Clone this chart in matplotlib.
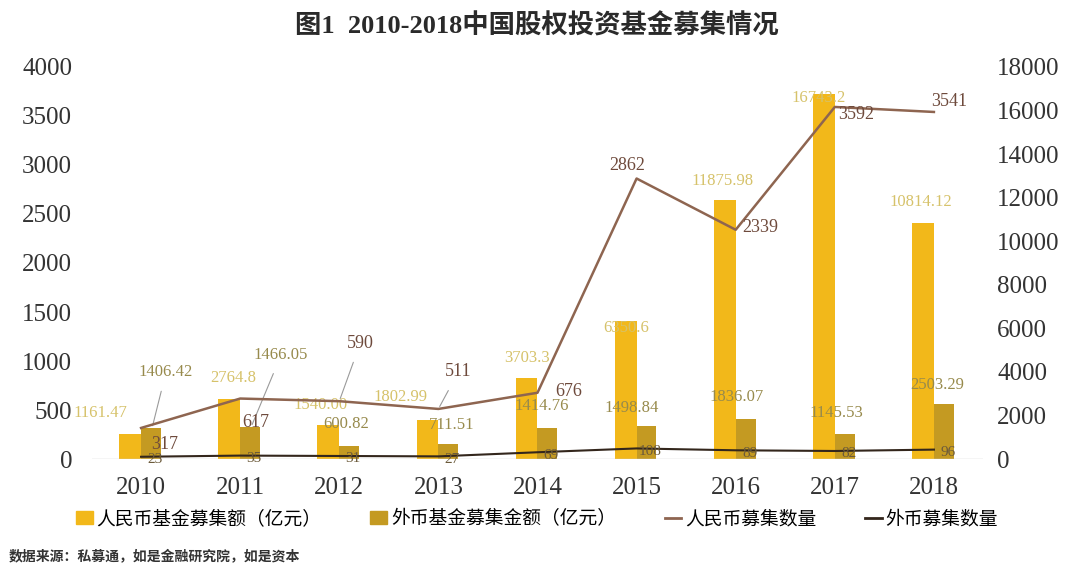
import numpy as np
import matplotlib
matplotlib.use("Agg")
import matplotlib.pyplot as plt
from matplotlib.patches import Patch
from matplotlib.lines import Line2D

plt.rcParams['font.family'] = ['Liberation Serif', 'Noto Sans CJK SC', 'DejaVu Sans']

years = ['2010', '2011', '2012', '2013', '2014', '2015', '2016', '2017', '2018']
rmb_amount = [1161.47, 2764.8, 1540.0, 1802.99, 3703.3, 6350.6, 11875.98, 16743.2, 10814.12]
fx_amount = [1406.42, 1466.05, 600.82, 711.51, 1414.76, 1498.84, 1836.07, 1145.53, 2503.29]
rmb_count = [317, 617, 590, 511, 676, 2862, 2339, 3592, 3541]
fx_count = [23, 35, 31, 27, 69, 108, 89, 82, 96]

rmb_amount_labels = ['1161.47', '2764.8', '1540.00', '1802.99', '3703.3', '6350.6',
                     '11875.98', '16743.2', '10814.12']

C_RMB = '#F2B81A'
C_FX = '#C49A22'
C_RMB_LINE = '#8E6550'
C_FX_LINE = '#33261C'
C_RMB_TXT = '#D6C26A'
C_FX_TXT = '#978A4C'
C_CNT_TXT = '#6E4A3C'

# label offsets in pixels (dx, dy)
rmb_off = [(-30, 21), (4, 21), (-8, 20), (-27, 23), (0, 20), (0, -7), (-2, 19), (-5, -4), (-2, 21)]
fx_off = [(14, 56), (30, 72), (-4, 22), (2, 19), (-7, 22), (-16, 18), (-10, 22), (-9, 21), (-8, 19)]
cnt_off = [(24, -17), (16, -24), (21, 58), (20, 37), (31, 1), (-9, 13), (25, 2), (21, -8), (15, 10)]
fx_cnt_off = [(14, -3)] * 9
fx_leader = [True, True, False, False, False, False, False, False, False]
cnt_leader = [False, False, True, True, False, False, False, False, False]

fig = plt.figure(figsize=(10.74, 5.70), dpi=100)
ax = fig.add_axes([0.0852, 0.1947, 0.8305, 0.6878])
ax2 = ax.twinx()

x = np.arange(len(years))
w = 0.22
ax2.bar(x - w / 2, rmb_amount, width=w, color=C_RMB, zorder=2)
ax2.bar(x + w / 2 - 0.01, fx_amount, width=w - 0.02, color=C_FX, zorder=2)

ax.set_zorder(ax2.get_zorder() + 1)
ax.patch.set_visible(False)
ax.plot(x, rmb_count, color=C_RMB_LINE, lw=1.8, zorder=3)
ax.plot(x, fx_count, color=C_FX_LINE, lw=1.5, zorder=3)

ax.set_xlim(-0.5, 8.5)
ax.set_ylim(0, 4000)
ax2.set_ylim(0, 18000)
ax.set_yticks(np.arange(0, 4001, 500))
ax2.set_yticks(np.arange(0, 18001, 2000))
ax.set_xticks(x)
ax.set_xticklabels(years)
for a in (ax, ax2):
    for s in a.spines.values():
        s.set_visible(False)
    a.tick_params(length=0, labelsize=18, colors='#333333')
ax.tick_params(axis='x', pad=13)
ax.tick_params(axis='y', pad=14)
ax2.tick_params(axis='y', pad=10)
ax.axhline(0, color='#d0d0d0', lw=1, zorder=1)

for i in range(len(years)):
    ax2.annotate(rmb_amount_labels[i], (x[i] - w / 2, rmb_amount[i]),
                 xytext=rmb_off[i], textcoords='offset pixels',
                 ha='center', va='center', fontsize=12, color=C_RMB_TXT, zorder=5)
    ap = dict(arrowstyle='-', color='#9a9a9a', lw=0.8, shrinkA=6, shrinkB=2) if fx_leader[i] else None
    ax2.annotate(f'{fx_amount[i]:.2f}', (x[i] + w / 2, fx_amount[i]),
                 xytext=fx_off[i], textcoords='offset pixels',
                 ha='center', va='center', fontsize=12, color=C_FX_TXT,
                 arrowprops=ap, zorder=5)
    ap = dict(arrowstyle='-', color='#9a9a9a', lw=0.8, shrinkA=6, shrinkB=2) if cnt_leader[i] else None
    ax.annotate(str(rmb_count[i]), (x[i], rmb_count[i]),
                xytext=cnt_off[i], textcoords='offset pixels',
                ha='center', va='center', fontsize=13, color=C_CNT_TXT,
                arrowprops=ap, zorder=6)
    ax.annotate(str(fx_count[i]), (x[i], fx_count[i]),
                xytext=fx_cnt_off[i], textcoords='offset pixels',
                ha='center', va='center', fontsize=11, color='#6b5a3a', zorder=6)

fig.text(0.5, 0.955, '图1  2010-2018中国股权投资基金募集情况', ha='center', va='center',
         fontsize=19, fontweight='semibold', color='#2a2a2a')

handles = [Patch(color=C_RMB), Patch(color=C_FX),
           Line2D([], [], color=C_RMB_LINE, lw=2), Line2D([], [], color=C_FX_LINE, lw=2)]
labels = ['人民币基金募集额（亿元）', '外币基金募集金额（亿元）', '人民币募集数量', '外币募集数量']
fig.legend(handles, labels, loc='center', bbox_to_anchor=(0.5, 0.09), ncol=4, frameon=False,
           prop={'family': ['Noto Sans CJK SC', 'DejaVu Sans'], 'size': 13.5},
           handlelength=0.9, handletextpad=0.2, columnspacing=2.6)

fig.text(0.008, 0.025, '数据来源：私募通，如是金融研究院，如是资本', ha='left', va='center',
         fontsize=10, fontweight='bold', color='#333333',
         family=['Noto Sans CJK SC', 'DejaVu Sans'])

fig.savefig('out.png', dpi=100)
